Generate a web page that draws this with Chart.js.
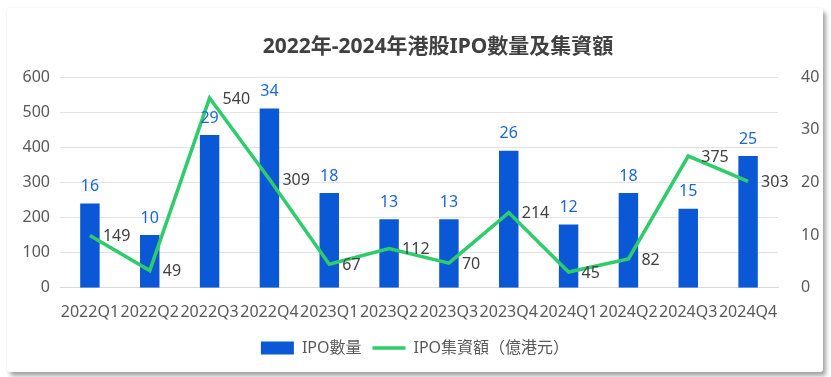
<!DOCTYPE html>
<html>
<head>
<meta charset="utf-8">
<script src="https://cdn.jsdelivr.net/npm/chart.js@4"></script>
<style>
  body { margin: 0; background: #fff; }
  .card {
    position: absolute; left: 7px; top: 8px; width: 816px; height: 364px;
    background: #fff; border-radius: 3px;
    box-shadow: 3px 4px 4px rgba(0,0,0,0.35), 0 0 2px rgba(0,0,0,0.08);
  }
</style>
</head>
<body>
<div class="card"><canvas id="ipoChart" width="816" height="364"></canvas></div>
<script>
const FONT = '"Noto Sans", "Noto Sans CJK TC", sans-serif';
const TITLE = '2022年-2024年港股IPO數量及集資額';
const quarters = ['2022Q1', '2022Q2', '2022Q3', '2022Q4', '2023Q1', '2023Q2', '2023Q3', '2023Q4', '2024Q1', '2024Q2', '2024Q3', '2024Q4'];
const ipoCount = [16, 10, 29, 34, 18, 13, 13, 26, 12, 18, 15, 25];
const ipoFunds = [149, 49, 540, 309, 67, 112, 70, 214, 45, 82, 375, 303];
const leftTicks = [0, 100, 200, 300, 400, 500, 600];
const rightTicks = [0, 10, 20, 30, 40];

// title drawn a bit right of center, like the original
const titlePlugin = {
    id: 'offTitle',
    afterDraw(chart) {
        const ctx = chart.ctx;
        const a = chart.chartArea;
        ctx.save();
        ctx.font = 'bold 21px ' + FONT;
        ctx.fillStyle = '#404040';
        ctx.textAlign = 'center';
        ctx.textBaseline = 'middle';
        ctx.fillText(TITLE, (a.left + a.right) / 2 + 19, 39);
        ctx.restore();
    }
};

const valueLabels = {
    id: 'valueLabels',
    afterDatasetsDraw(chart) {
        const ctx = chart.ctx;
        ctx.save();
        ctx.font = '16px ' + FONT;
        chart.getDatasetMeta(0).data.forEach((el, i) => {
            ctx.fillStyle = '#1a66dd';
            ctx.textAlign = 'center';
            ctx.textBaseline = 'bottom';
            ctx.fillText(ipoCount[i], el.x, el.y - 9);
        });
        chart.getDatasetMeta(1).data.forEach((el, i) => {
            ctx.fillStyle = '#404040';
            ctx.textAlign = 'left';
            ctx.textBaseline = 'middle';
            ctx.fillText(ipoFunds[i], el.x + 13, el.y + 1);
        });
        ctx.restore();
    }
};

const ctx = document.getElementById('ipoChart').getContext('2d');
new Chart(ctx, {
    type: 'bar',
    data: {
        labels: quarters,
        datasets: [{
            type: 'bar',
            label: 'IPO數量',
            data: ipoCount,
            yAxisID: 'yRight',
            backgroundColor: '#0a58d6',
            borderWidth: 0,
            barPercentage: 0.65,
            categoryPercentage: 0.5,
            pointStyle: 'rect',
            order: 1
        }, {
            type: 'line',
            label: 'IPO集資額（億港元）',
            data: ipoFunds,
            yAxisID: 'yLeft',
            borderColor: '#2ecc6a',
            backgroundColor: '#2ecc6a',
            borderWidth: 3.5,
            pointRadius: 0,
            tension: 0,
            pointStyle: 'line',
            order: 0
        }]
    },
    options: {
        responsive: false,
        animation: false,
        layout: { padding: { top: 69, bottom: 6, left: 0, right: 0 } },
        scales: {
            x: {
                grid: { display: false },
                border: { color: '#d9d9d9' },
                ticks: { color: '#595959', font: { family: FONT, size: 16 }, autoSkip: false, maxRotation: 0, padding: 7 }
            },
            yLeft: {
                position: 'left',
                min: 0, max: 600,
                afterBuildTicks: s => { s.ticks = leftTicks.map(v => ({ value: v })); },
                afterFit: s => { s.width = 53; },
                grid: { color: '#e3e3e3', drawTicks: false },
                border: { display: false },
                ticks: { color: '#595959', font: { family: FONT, size: 16 }, padding: 10 }
            },
            yRight: {
                position: 'right',
                min: 0, max: 40,
                afterBuildTicks: s => { s.ticks = rightTicks.map(v => ({ value: v })); },
                afterFit: s => { s.width = 45; },
                grid: { display: false },
                border: { display: false },
                ticks: { color: '#595959', font: { family: FONT, size: 16 }, padding: 15 }
            }
        },
        plugins: {
            legend: {
                position: 'bottom',
                labels: {
                    usePointStyle: true,
                    pointStyleWidth: 33,
                    boxHeight: 13,
                    color: '#595959',
                    font: { family: FONT, size: 16 },
                    padding: 11,
                    sort: (a, b) => a.datasetIndex - b.datasetIndex
                }
            },
            tooltip: { enabled: false }
        }
    },
    plugins: [titlePlugin, valueLabels]
});
</script>
</body>
</html>
